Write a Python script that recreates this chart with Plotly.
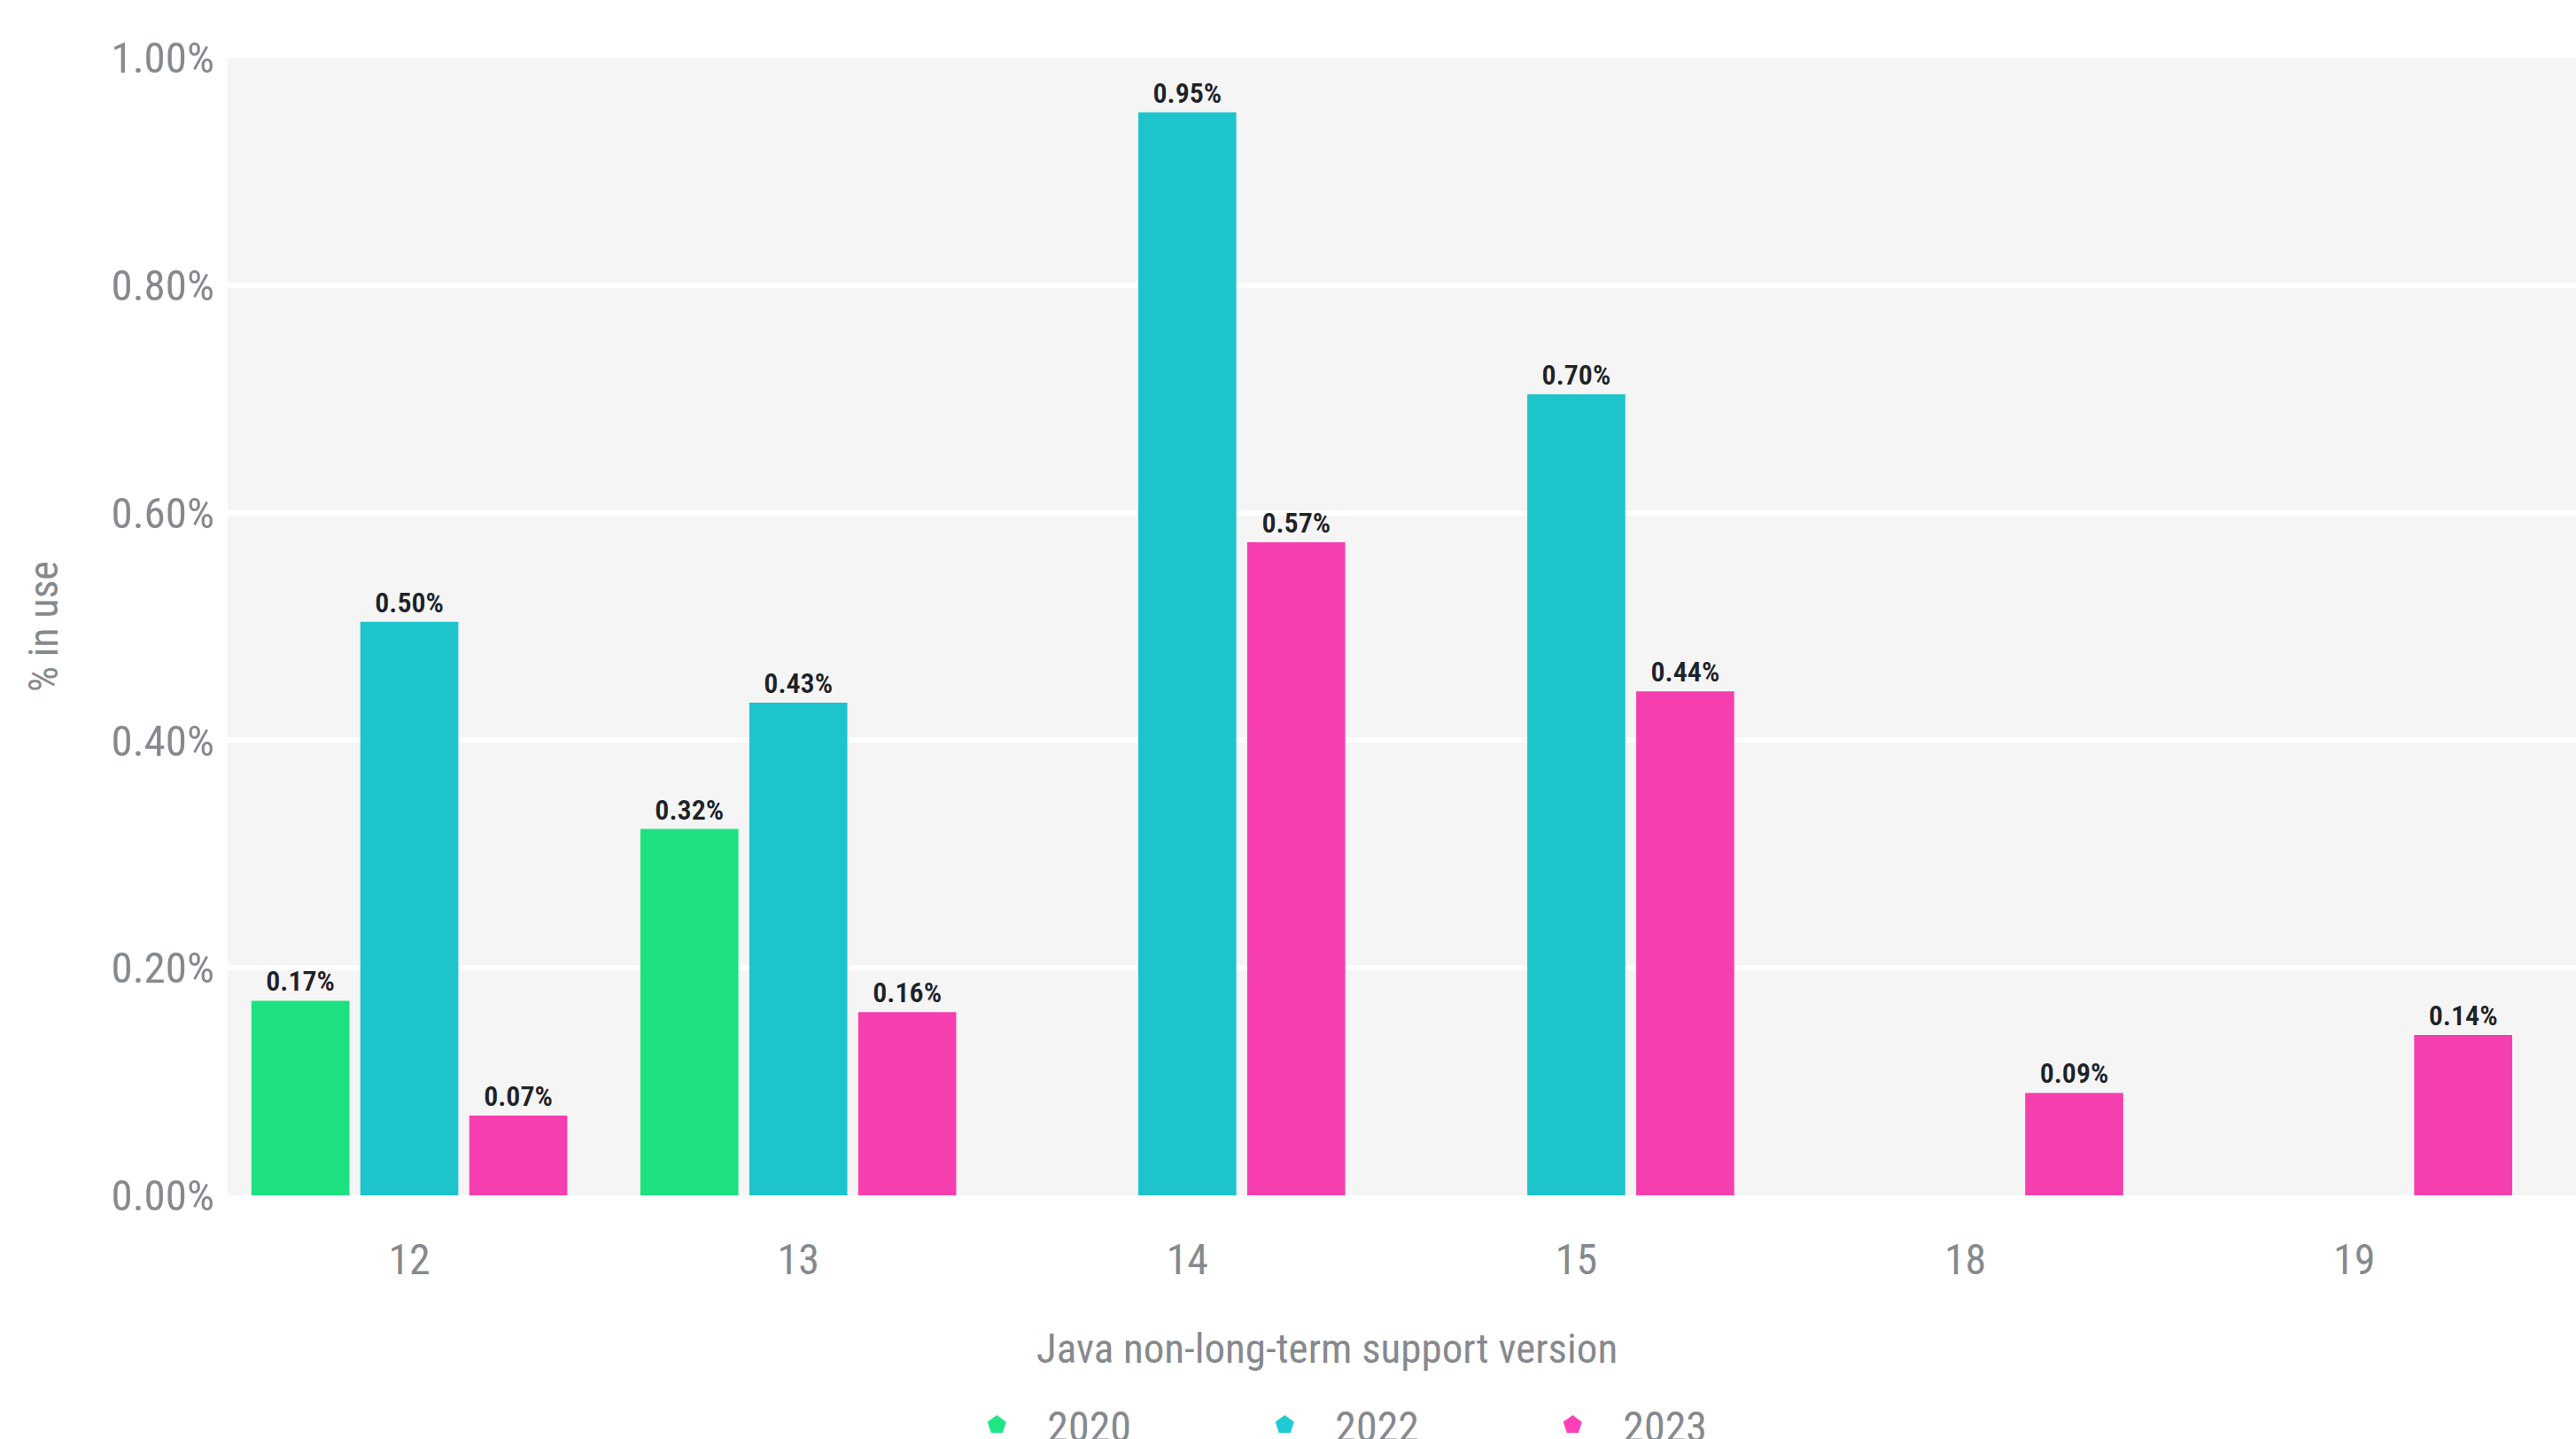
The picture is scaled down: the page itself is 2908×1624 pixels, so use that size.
import plotly.graph_objects as go

versions = ["12", "13", "14", "15", "18", "19"]
years = ["2020", "2022", "2023"]
usage_2020 = [0.171, 0.322, None, None, None, None]
usage_2022 = [0.504, 0.433, 0.952, 0.704, None, None]
usage_2023 = [0.070, 0.161, 0.574, 0.443, 0.090, 0.141]
series = [usage_2020, usage_2022, usage_2023]
y_tick_values = [0, 0.2, 0.4, 0.6, 0.8, 1.0]
y_tick_labels = ["0.00%", "0.20%", "0.40%", "0.60%", "0.80%", "1.00%"]
x_title = "Java non-long-term support version"
y_title = "% in use"

bar_colors = ["#1de180", "#1dc4cc", "#f63fae"]
legend_colors = ["#1fe584", "#1ecbd4", "#ff40b8"]

FONT = "Roboto Condensed, Liberation Sans Narrow, Arial Narrow, Liberation Sans, Arial, sans-serif"
GREY = "#86898e"

fig = go.Figure()
for name, vals, col in zip(years, series, bar_colors):
    fig.add_trace(go.Bar(
        x=versions, y=vals, name=name, legendgroup=name, showlegend=False,
        marker=dict(color=col, line=dict(width=0)),
        texttemplate="%{y:.2f}%", textposition="outside",
        textfont=dict(family=FONT, size=32, color="#1e2229", weight=600),
        cliponaxis=False,
    ))
for name, col in zip(years, legend_colors):
    fig.add_trace(go.Scatter(
        x=[None], y=[None], mode="markers", name=name, legendgroup=name,
        marker=dict(symbol="pentagon", size=30, color=col, line=dict(width=5, color=col)),
        showlegend=True, hoverinfo="skip",
    ))

fig.update_layout(
    width=2908, height=1624,
    margin=dict(l=257, r=0, t=65, b=275, autoexpand=False),
    paper_bgcolor="white", plot_bgcolor="#f5f5f5",
    barmode="group", bargap=0.16, bargroupgap=0.1,
    font=dict(family=FONT, color=GREY, size=44),
    showlegend=True,
    legend=dict(
        orientation="h", xref="container", yref="container",
        x=0.535, xanchor="center", y=0.033, yanchor="top",
        font=dict(family=FONT, size=48, color=GREY),
        entrywidth=206, itemwidth=104,
    ),
    xaxis=dict(
        type="category", range=[-0.467, 5.570],
        showgrid=False, zeroline=False, showline=False, ticks="",
        tickfont=dict(family=FONT, size=48, color=GREY),
        ticklabelstandoff=40,
    ),
    yaxis=dict(
        range=[0, 1.0], tickvals=y_tick_values, ticktext=y_tick_labels,
        showgrid=True, gridcolor="white", gridwidth=6,
        zeroline=False, showline=False, ticks="",
        tickfont=dict(family=FONT, size=49, color=GREY),
        ticklabelstandoff=14,
        title=dict(text=y_title, font=dict(family=FONT, size=46, color=GREY), standoff=45),
    ),
    annotations=[dict(
        text=x_title, xref="paper", yref="paper", x=0.468, y=-0.1347,
        xanchor="center", yanchor="middle", showarrow=False,
        font=dict(family=FONT, size=47, color=GREY),
    )],
)

fig.write_html("out.html")
